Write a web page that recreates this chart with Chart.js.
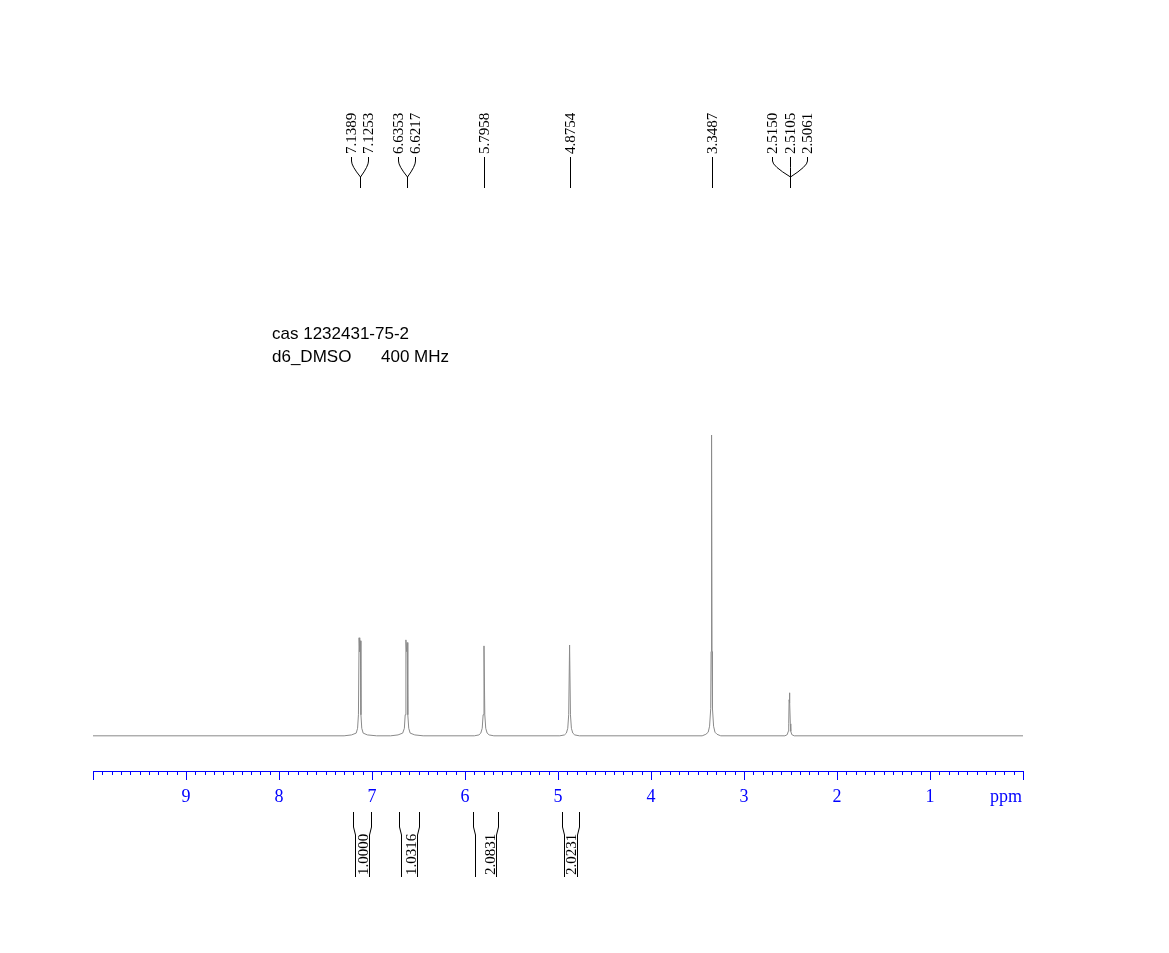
<!DOCTYPE html>
<html><head><meta charset="utf-8">
<script src="https://cdn.jsdelivr.net/npm/chart.js@4.4.0/dist/chart.umd.min.js"></script>
<style>html,body{margin:0;padding:0;background:#fff;}#wrap{width:1169px;height:953px;position:relative;}</style>
</head><body><div id="wrap"><canvas id="c" width="1169" height="953"></canvas></div>
<script>
// ---- data ----
const spectrumPpm = [10.00, 7.30, 7.22, 7.17, 7.155, 7.146, 7.1389, 7.132, 7.1253, 7.119, 7.110, 7.095, 7.05, 6.95,
  6.80, 6.72, 6.67, 6.652, 6.643, 6.6353, 6.628, 6.6217, 6.615, 6.605, 6.59, 6.54, 6.45,
  5.90, 5.85, 5.83, 5.815, 5.805, 5.7958, 5.787, 5.777, 5.762, 5.74, 5.69,
  4.98, 4.93, 4.91, 4.895, 4.885, 4.8754, 4.866, 4.856, 4.841, 4.82, 4.77,
  3.45, 3.41, 3.385, 3.37, 3.358, 3.354, 3.3487, 3.344, 3.339, 3.327, 3.312, 3.29, 3.25,
  2.56, 2.535, 2.524, 2.519, 2.5150, 2.513, 2.5105, 2.508, 2.5061, 2.502, 2.497, 2.486, 2.46, 0.00];
const spectrumIntensity = [0, 0, 0.3, 0.9, 2.5, 7, 32.6, 28, 31.6, 7, 2.5, 0.9, 0.3, 0,
  0, 0.3, 0.9, 2.5, 7, 31.9, 28, 31.0, 7, 2.5, 0.9, 0.3, 0,
  0, 0.3, 0.9, 2.5, 7, 29.9, 7, 2.5, 0.9, 0.3, 0,
  0, 0.3, 0.9, 2.5, 7, 30.2, 7, 2.5, 0.9, 0.3, 0,
  0, 0.5, 1.2, 3.2, 9, 28, 100, 28, 9, 3.2, 1.2, 0.5, 0,
  0, 0.4, 1.5, 4, 12, 11, 14.3, 11, 11.5, 4, 1.5, 0.4, 0, 0];
const peakGroups = [[7.1389, 7.1253], [6.6353, 6.6217], [5.7958], [4.8754], [3.3487], [2.5150, 2.5105, 2.5061]];
const integralFrom = [7.204, 6.710, 5.914, 4.957];
const integralTo = [7.011, 6.495, 5.645, 4.774];
const integralValues = ['1.0000', '1.0316', '2.0831', '2.0231'];
const axisLabelValues = [1, 2, 3, 4, 5, 6, 7, 8, 9];
const axisUnit = 'ppm';
const infoLines = ['cas 1232431-75-2', 'd6_DMSO', '400 MHz'];

const BLUE = '#0000ff';
const isInt = v => Math.abs(v - Math.round(v)) < 1e-6;

const annotations = {
  id: 'nmrAnnotations',
  afterDraw(chart) {
    const ctx = chart.ctx, xs = chart.scales.x;
    ctx.save();
    // minor ticks
    ctx.strokeStyle = BLUE; ctx.lineWidth = 1;
    xs.ticks.forEach(t => {
      if (isInt(t.value)) return;
      const px = Math.round(xs.getPixelForValue(t.value)) + 0.5;
      ctx.beginPath(); ctx.moveTo(px, xs.top); ctx.lineTo(px, xs.top + 4); ctx.stroke();
    });
    // unit label
    ctx.fillStyle = BLUE; ctx.font = '18px "Liberation Serif"';
    ctx.textAlign = 'center'; ctx.textBaseline = 'middle';
    ctx.fillText(axisUnit, xs.getPixelForValue(0) - 17, 797);

    // peak labels
    ctx.fillStyle = '#000'; ctx.strokeStyle = '#000'; ctx.lineWidth = 1;
    ctx.font = '15px "Liberation Serif"';
    const spacing = 17.5;
    peakGroups.forEach(group => {
      const pxs = group.map(v => xs.getPixelForValue(v));
      const center = pxs.reduce((a, b) => a + b, 0) / pxs.length;
      const n = group.length;
      group.forEach((v, i) => {
        const lx = Math.round(center + (i - (n - 1) / 2) * spacing) + 0.5;
        ctx.save();
        ctx.translate(lx + 4, 156);
        ctx.rotate(-Math.PI / 2);
        ctx.textAlign = 'left'; ctx.textBaseline = 'alphabetic';
        ctx.fillText(v.toFixed(4), 2, 0);
        ctx.restore();
        ctx.beginPath();
        if (n === 1) {
          ctx.moveTo(lx, 157); ctx.lineTo(lx, 188);
        } else {
          const jx = Math.round(center) + 0.5;
          ctx.moveTo(lx, 157); ctx.lineTo(lx, 161);
          ctx.quadraticCurveTo(lx, 166, jx, 177);
          ctx.lineTo(jx, 188);
        }
        ctx.stroke();
      });
    });

    // integrals
    integralFrom.forEach((f, i) => {
      const x1 = Math.round(xs.getPixelForValue(f)) + 0.5;
      const x2 = Math.round(xs.getPixelForValue(integralTo[i])) + 0.5;
      ctx.beginPath();
      ctx.moveTo(x1, 812); ctx.lineTo(x1, 827); ctx.lineTo(x1 + 2, 835); ctx.lineTo(x1 + 2, 877);
      ctx.moveTo(x2, 812); ctx.lineTo(x2, 827); ctx.lineTo(x2 - 2, 835); ctx.lineTo(x2 - 2, 877);
      ctx.stroke();
      ctx.save();
      ctx.translate(x2 - 4, 875);
      ctx.rotate(-Math.PI / 2);
      ctx.textAlign = 'left'; ctx.textBaseline = 'alphabetic';
      ctx.fillText(integralValues[i], 0, 0);
      ctx.restore();
    });

    // info text
    ctx.font = '17px "Liberation Sans"';
    ctx.textAlign = 'left'; ctx.textBaseline = 'alphabetic';
    ctx.fillText(infoLines[0], 272, 339);
    ctx.fillText(infoLines[1], 272, 362);
    ctx.fillText(infoLines[2], 381, 362);
    ctx.restore();
  }
};

new Chart(document.getElementById('c'), {
  type: 'line',
  data: {
    datasets: [{
      data: spectrumPpm.map((x, i) => ({ x, y: spectrumIntensity[i] })),
      borderColor: '#8a8a8a', borderWidth: 1, pointRadius: 0, tension: 0, fill: false
    }]
  },
  options: {
    responsive: false, animation: false, devicePixelRatio: 1,
    layout: { padding: { left: 93, right: 146, top: 405, bottom: 142 } },
    plugins: { legend: { display: false }, tooltip: { enabled: false } },
    scales: {
      x: {
        type: 'linear', reverse: true, min: 0, max: 10,
        afterFit: s => { s.height = 40; },
        border: { display: true, color: BLUE, width: 1 },
        grid: {
          drawOnChartArea: false, drawTicks: true, tickLength: 9,
          tickColor: c => (c.tick && isInt(c.tick.value)) ? BLUE : 'rgba(0,0,0,0)'
        },
        ticks: {
          stepSize: 0.1, autoSkip: false, maxRotation: 0, padding: 6,
          color: BLUE, font: { family: '"Liberation Serif"', size: 18 },
          callback: v => (isInt(v) && axisLabelValues.includes(Math.round(v))) ? String(Math.round(v)) : ''
        }
      },
      y: { display: false, min: -11.7, max: 110 }
    }
  },
  plugins: [annotations]
});
</script>
</body></html>
